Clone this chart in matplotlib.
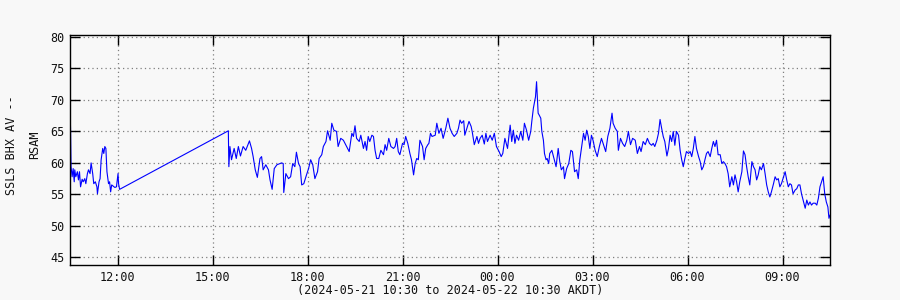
import matplotlib
matplotlib.use('Agg')
import matplotlib.pyplot as plt

# minutes after 2024-05-21 10:30 AKDT, RSAM values
minutes = [
    0, 1, 2, 4, 6, 8, 9, 11, 14, 16, 18, 20, 23, 25, 28, 30, 33, 35, 38, 40,
    43, 45, 48, 51, 52, 55, 57, 59, 62, 64, 66, 68, 70, 73, 75, 77, 79, 82, 85, 88,
    91, 92, 94, 300, 301,
    303, 306, 311, 315, 319, 323, 328, 333, 340, 344, 347, 351, 355, 360, 363, 366, 371, 376, 379, 383,
    387, 392, 401, 404, 405, 409, 414, 418, 422, 426, 429, 433, 436, 439, 443, 447, 452, 456, 460, 464,
    469, 472, 477, 480, 485, 488, 493, 496, 500, 505, 508, 513, 518, 524, 529, 534, 537, 540, 543, 548,
    551, 556,
    559, 562, 565, 568, 572, 575, 578, 581, 585, 589, 594, 597, 600, 604, 608, 613, 616, 619, 622, 625,
    630, 633, 636, 640, 644, 647, 651, 654, 657, 660, 663, 668, 671, 674, 678, 680, 683, 686, 692, 695,
    699, 703, 707, 712, 716, 720, 724, 728, 733, 736, 739, 742, 746, 748, 752, 756, 760, 762, 766, 771,
    774, 777, 781, 785, 788, 791, 796, 800, 804, 808, 813, 817, 820, 824, 829,
    834, 837, 840, 843, 846, 850, 854, 858, 861, 865, 869, 873, 875, 878, 882, 884, 887, 889, 892, 894,
    897, 899, 902, 904, 907, 909, 913, 917, 921, 925, 928, 931, 935, 937, 941, 945, 949, 952, 956, 960,
    963, 966, 969, 973, 976, 979, 982, 985, 988, 991, 995, 999, 1003, 1007, 1012, 1015, 1019, 1023, 1027, 1029,
    1033, 1037, 1039, 1043, 1047, 1051, 1055, 1058, 1062, 1066, 1071, 1075, 1079, 1082, 1086, 1090, 1094, 1098,
    1102, 1105, 1108, 1112, 1115, 1118, 1121, 1124, 1127, 1131, 1134, 1137, 1140, 1143, 1146, 1149, 1153, 1156,
    1159, 1162, 1165, 1168, 1172, 1175, 1178, 1181, 1184, 1187, 1191, 1194, 1197, 1200, 1203, 1206, 1209, 1213,
    1216, 1219, 1222, 1225, 1228, 1232, 1235, 1238, 1241, 1244, 1247, 1250, 1254, 1257, 1260, 1263, 1266, 1269,
    1273, 1276, 1279, 1282, 1285, 1288, 1292, 1295, 1298, 1301, 1304, 1307, 1310, 1314, 1317, 1320, 1323, 1326,
    1329, 1333, 1336, 1339, 1342, 1345, 1348, 1352, 1355, 1358, 1361, 1364, 1367, 1370, 1374, 1377, 1380, 1383,
    1386, 1389, 1393, 1396, 1399, 1402, 1405, 1408, 1412, 1415, 1418, 1421, 1424, 1427, 1430, 1433, 1436, 1438, 1440,
]
rsam = [
    68.8, 65.5, 59.4, 57.8, 59.1, 57.0, 58.9, 57.8, 58.6, 57.3, 58.6, 56.2, 57.4, 57.0, 57.5, 56.7, 58.3, 58.9, 58.3, 60.0,
    58.3, 56.7, 57.0, 56.2, 55.1, 57.0, 57.5, 60.5, 62.3, 61.5, 62.6, 62.3, 58.6, 56.7, 57.0, 55.4, 56.5, 56.3, 56.1, 56.2,
    58.3, 56.7, 55.8, 65.1, 59.4,
    62.6, 60.5, 62.3, 60.7, 62.6, 61.1, 62.6, 62.0, 63.5, 62.3, 61.0, 58.9, 57.7, 60.7, 61.0, 58.9, 59.7, 58.9, 57.3, 55.8,
    59.1, 59.7, 60.0, 59.9, 55.3, 58.3, 57.5, 57.8, 59.9, 59.4, 61.7, 59.9, 59.4, 56.5, 56.7, 57.8, 59.1, 60.5, 59.7, 57.5,
    58.6, 60.7, 61.3, 62.6, 63.4, 65.1, 63.6, 66.3, 65.2, 65.0, 62.6, 63.9, 63.6, 62.6, 61.8, 64.7, 64.2, 65.9, 63.9, 63.4,
    64.4, 62.3,
    63.4, 62.0, 64.2, 63.4, 64.4, 64.2, 62.0, 60.7, 60.7, 62.0, 61.3, 62.9, 62.0, 63.9, 62.6, 62.3, 62.6, 63.9, 61.8, 61.3,
    63.1, 62.9, 64.2, 63.1, 61.5, 60.5, 58.1, 59.9, 60.7, 60.5, 63.6, 62.6, 60.5, 62.3, 62.9, 63.1, 64.7, 64.2, 64.4, 66.3,
    64.7, 65.5, 63.9, 65.5, 67.1, 65.5, 64.7, 64.2, 64.7, 65.5, 66.8, 66.3, 66.7, 64.4, 65.5, 66.6, 65.8, 65.0, 62.9, 64.2,
    63.1, 63.9, 64.4, 63.0, 64.7, 63.4, 64.4, 63.6, 64.7, 62.6, 61.8, 61.0, 61.5, 63.9, 62.3,
    66.0, 63.4, 65.2, 63.1, 64.4, 63.6, 65.0, 63.6, 66.3, 65.2, 63.6, 65.0, 66.6, 68.7, 70.5, 72.9, 67.9, 67.6, 67.1, 65.0,
    63.6, 61.5, 60.5, 60.7, 59.9, 61.5, 62.0, 60.7, 59.4, 62.3, 60.2, 58.9, 59.4, 57.5, 59.1, 59.9, 62.0, 61.8, 58.6, 58.9,
    57.5, 60.5, 62.3, 64.7, 63.6, 65.2, 64.2, 62.3, 64.4, 63.6, 62.0, 61.0, 62.6, 63.9, 62.6, 61.8, 64.2, 65.5, 67.9, 66.3,
    65.5, 65.0, 62.0, 63.9, 63.1, 62.6, 63.6, 65.0, 62.9, 63.9, 63.6, 61.5, 62.6, 61.8, 63.4, 62.9, 63.9, 63.1,
    62.8, 63.1, 62.6, 63.6, 64.7, 66.9, 65.5, 64.2, 63.4, 61.1, 62.3, 64.4, 63.4, 65.0, 62.8, 65.0, 64.4, 62.0,
    60.5, 59.4, 60.7, 61.8, 61.5, 61.8, 61.0, 62.3, 64.2, 62.3, 61.0, 60.2, 58.9, 59.4, 60.5, 61.5, 61.8, 61.0,
    62.3, 63.4, 62.6, 63.6, 61.3, 61.3, 59.9, 60.2, 59.9, 59.4, 58.3, 56.2, 57.8, 56.5, 58.1, 57.0, 55.4, 57.0,
    58.6, 61.9, 61.3, 59.4, 57.8, 56.5, 60.2, 59.4, 58.9, 57.3, 58.1, 59.4, 58.9, 59.9, 58.3, 56.5, 55.4, 54.6,
    55.4, 56.7, 57.8, 57.3, 57.5, 56.2, 56.7, 57.8, 58.6, 57.3, 56.2, 56.7, 56.5, 55.1, 55.7, 55.9, 56.5, 56.5,
    55.1, 54.1, 52.8, 54.1, 53.3, 53.8, 53.3, 53.6, 53.6, 53.3, 54.4, 56.2, 57.0, 57.8, 55.1, 53.8, 53.0, 51.2, 51.7,
]

tick_minutes = [90, 270, 450, 630, 810, 990, 1170, 1350]
tick_labels = ['12:00', '15:00', '18:00', '21:00', '00:00', '03:00', '06:00', '09:00']
y_ticks = [45, 50, 55, 60, 65, 70, 75, 80]

bg = '#f8f8f8'
fig = plt.figure(figsize=(9, 3), dpi=100, facecolor=bg)
ax = fig.add_axes([70 / 900, 35 / 300, 760 / 900, 230 / 300], facecolor=bg)

ax.plot(minutes, rsam, color='#0000ff', linewidth=0.8)

ax.set_xlim(0, 1440)
ax.set_ylim(43.78, 80.32)
ax.set_xticks(tick_minutes)
ax.set_xticklabels(tick_labels)
ax.set_yticks(y_ticks)

font = 'DejaVu Sans Mono'
for lab in ax.get_xticklabels() + ax.get_yticklabels():
    lab.set_fontfamily(font)
    lab.set_fontsize(8.5)
    lab.set_color('#111111')

ax.tick_params(direction='in', length=7.5, width=1, top=True, right=True, pad=4)
ax.grid(True, color='#808080', linestyle=(0, (1, 2.5)), linewidth=0.9)
for s in ax.spines.values():
    s.set_linewidth(1)
    s.set_color('black')

ax.set_xlabel('(2024-05-21 10:30 to 2024-05-22 10:30 AKDT)', fontfamily=font,
              fontsize=8.5, labelpad=0, color='#111111')

# two-line y label, placed by hand like the original
fig.text(12 / 900, 1 - 145 / 300, 'SSLS BHX AV --', rotation=90, ha='center', va='center',
         fontfamily=font, fontsize=8.5, color='#111111')
fig.text(35 / 900, 1 - 145 / 300, 'RSAM', rotation=90, ha='center', va='center',
         fontfamily=font, fontsize=8.5, color='#111111')

fig.savefig('out.png', dpi=100, facecolor=bg)
